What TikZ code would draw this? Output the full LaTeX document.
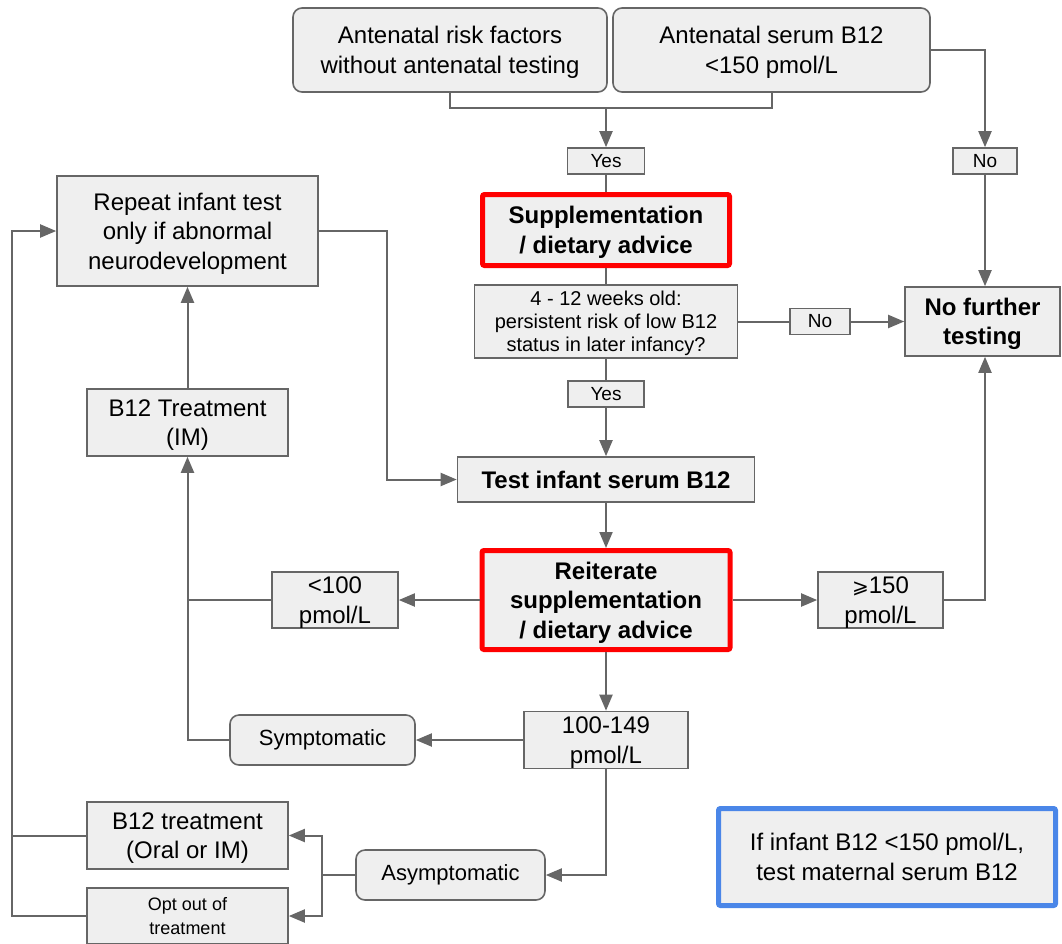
\documentclass[tikz,border=0pt]{standalone}
\usepackage{fontspec}
\setmainfont{Liberation Sans}
\newfontfamily\dejavu{DejaVu Sans}
\usetikzlibrary{arrows.meta}
\definecolor{boxfill}{HTML}{EFEFEF}
\definecolor{boxline}{HTML}{666666}
\definecolor{redline}{HTML}{FF0000}
\definecolor{blueline}{HTML}{4A86E8}
\begin{document}
\begin{tikzpicture}[x=1pt,y=-1pt,
  box/.style={draw=boxline, fill=boxfill, line width=1.6pt, align=center, inner sep=0pt, font=\fontsize{24}{29.5}\selectfont},
  ml/.style={text depth=0pt},
  rbox/.style={box, rounded corners=9pt},
  lab/.style={box, font=\fontsize{19}{22}\selectfont},
  boldbox/.style={box, font=\bfseries\fontsize{24}{29.5}\selectfont},
  redbox/.style={boldbox, ml, draw=redline, line width=5pt, rounded corners=2pt},
  ln/.style={draw=boxline, line width=2pt},
  arr/.style={ln, -{Triangle[length=16pt,width=13pt]}},
]
\useasboundingbox (0,0) rectangle (1062,943);
% nodes
\node[rbox, ml, minimum width=314pt, minimum height=84pt] (A1) at (450,50) {Antenatal risk factors\\without antenatal testing};
\node[rbox, ml, minimum width=317pt, minimum height=84pt] (A2) at (771.5,50) {Antenatal serum B12\\<150 pmol/L};
\node[lab, minimum width=77pt, minimum height=26pt] (Y1) at (606,161) {Yes};
\node[redbox, minimum width=247pt, minimum height=71pt] (S) at (606,230) {Supplementation\\/ dietary advice};
\node[lab, minimum width=64pt, minimum height=26pt] (N1) at (985,161) {No};
\node[boldbox, ml, minimum width=155pt, minimum height=69pt] (NF) at (982.5,321.5) {No further\\testing};
\node[box, ml, font=\fontsize{20}{23}\selectfont, minimum width=263pt, minimum height=73pt] (Q) at (606,321.5) {4 - 12 weeks old:\\persistent risk of low B12\\status in later infancy?};
\node[lab, minimum width=60pt, minimum height=26pt] (N2) at (820,321.5) {No};
\node[lab, minimum width=76pt, minimum height=26pt] (Y2) at (606,394) {Yes};
\node[boldbox, minimum width=297pt, minimum height=45pt] (T) at (606,479.5) {Test infant serum B12};
\node[redbox, minimum width=248pt, minimum height=99pt] (R) at (606,600) {Reiterate\\supplementation\\/ dietary advice};
\node[box, ml, minimum width=126pt, minimum height=56pt] (L100) at (335,600) {<100\\pmol/L};
\node[box, ml, minimum width=125pt, minimum height=56pt] (G150) at (880.5,600) {{\dejavu\fontsize{20}{24}\selectfont ⩾}150\\pmol/L};
\node[box, ml, minimum width=261pt, minimum height=110pt] (Rep) at (187.5,231) {Repeat infant test\\only if abnormal\\neurodevelopment};
\node[box, ml, minimum width=201pt, minimum height=67pt] (BT) at (187.5,422.5) {B12 Treatment\\(IM)};
\node[box, ml, minimum width=164pt, minimum height=57pt] (M) at (606,740) {100-149\\pmol/L};
\node[rbox, font=\fontsize{22}{26}\selectfont, minimum width=185pt, minimum height=50pt] (Sy) at (322.5,740) {Symptomatic};
\node[rbox, font=\fontsize{22}{26}\selectfont, minimum width=189pt, minimum height=50pt] (As) at (450.5,875) {Asymptomatic};
\node[box, ml, minimum width=201pt, minimum height=67pt] (BO) at (187.5,835.5) {B12 treatment\\(Oral or IM)};
\node[box, ml, font=\fontsize{18}{24}\selectfont, minimum width=201pt, minimum height=56pt] (OO) at (187.5,916) {Opt out of\\treatment};
\node[box, ml, draw=blueline, line width=5pt, rounded corners=2pt, minimum width=337pt, minimum height=97pt] (Note) at (887,857) {If infant B12 <150 pmol/L,\\test maternal serum B12};
% connectors
\coordinate (J) at (606,108);
\draw[ln] (A1.south) |- (J) -| (A2.south);
\draw[arr] (J) -- (Y1.north);
\draw[ln] (Y1.south) -- (S.north);
\draw[ln] (S.south) -- (Q.north);
\draw[arr] (A2.east) -| (N1.north);
\draw[arr] (N1.south) -- (N1.south |- NF.north);
\draw[ln] (Q.east) -- (N2.west);
\draw[arr] (N2.east) -- (NF.west);
\draw[ln] (Q.south) -- (Y2.north);
\draw[arr] (Y2.south) -- (T.north);
\draw[arr] (T.south) -- (R.north);
\draw[arr] (R.west) -- (L100.east);
\draw[arr] (R.east) -- (G150.west);
\coordinate (NFb) at (N1.south |- NF.south);
\draw[arr] (G150.east) -| (NFb);
\draw[ln] (L100.west) -- (L100.west -| BT.south);
\draw[arr] (Sy.west) -| (BT.south);
\draw[arr] (BT.north) -- (Rep.south);
\draw[arr] (R.south) -- (M.north);
\draw[arr] (M.west) -- (Sy.east);
\draw[arr] (M.south) |- (As.east);
\coordinate (F) at (322,875);
\draw[ln] (As.west) -- (F);
\draw[arr] (F) |- (BO.east);
\draw[arr] (F) |- (OO.east);
\coordinate (LX) at (12,0);
\draw[ln] (BO.west) -- (BO.west -| LX);
\draw[arr] (OO.west) -- (OO.west -| LX) |- (Rep.west);
\coordinate (RX) at (387,0);
\draw[arr] (Rep.east) -- (Rep.east -| RX) |- (T.west);
\end{tikzpicture}
\end{document}
